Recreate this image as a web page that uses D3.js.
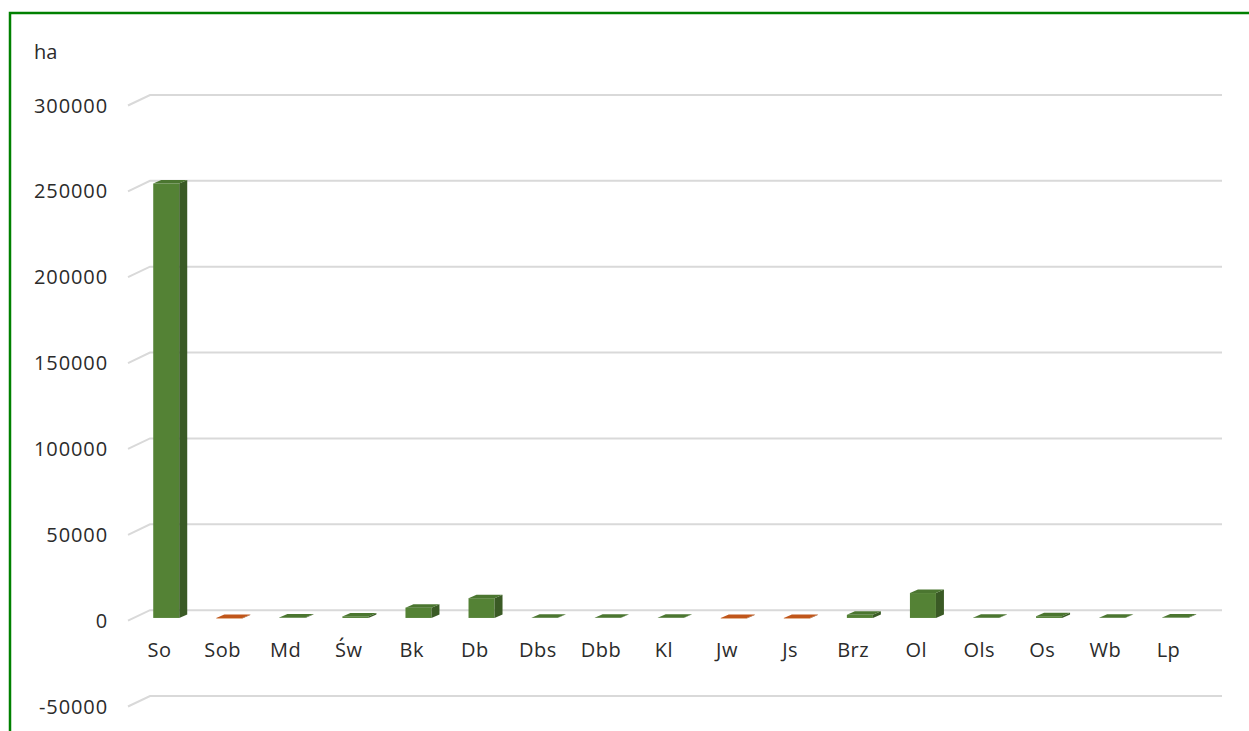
<!DOCTYPE html>
<html>
<head>
<meta charset="utf-8">
<script src="https://cdn.jsdelivr.net/npm/d3@7/dist/d3.min.js"></script>
<style>
  body { margin: 0; background: #fff; }
  text { font-family: "Open Sans", sans-serif; fill: #2b2b2b; font-size: 20px; }
</style>
</head>
<body>
<script>
// species codes and area (ha)
const categories = ["So", "Sob", "Md", "Św", "Bk", "Db", "Dbs", "Dbb", "Kl", "Jw", "Js", "Brz", "Ol", "Ols", "Os", "Wb", "Lp"];
const values = [253000, -300, 300, 900, 6000, 11500, 100, 100, 100, -300, -300, 1800, 14500, 100, 1000, 100, 200];
const yTicks = [-50000, 0, 50000, 100000, 150000, 200000, 250000, 300000];
const unitLabel = "ha";

const width = 1249, height = 731;

const svg = d3.select("body").append("svg")
  .attr("width", width)
  .attr("height", height);

// outer green frame (only top and left visible)
svg.append("rect")
  .attr("x", 10).attr("y", 13)
  .attr("width", width + 20).attr("height", height + 20)
  .attr("fill", "none")
  .attr("stroke", "#008000")
  .attr("stroke-width", 2.5);

// back wall scales
const x = d3.scaleBand().domain(categories).range([150, 1222]);
const y = d3.scaleLinear().domain([-50000, 300000]).range([696, 95]);

// floor depth (back -> front)
const depth = {dx: -22, dy: 10.5};
// bar front plane offset from the back wall, and bar thickness
const barFront = {dx: -15.3, dy: 7.8};
const barDepth = {dx: 8, dy: -3.5};
const barW = 26;

// gridlines
svg.append("g")
  .selectAll("polyline")
  .data(yTicks)
  .join("polyline")
  .attr("points", d => {
    const yb = y(d);
    return [[150 + depth.dx, yb + depth.dy], [150, yb], [1222, yb]].map(p => p.join(",")).join(" ");
  })
  .attr("fill", "none")
  .attr("stroke", "#d9d9d9")
  .attr("stroke-width", 2);

// y labels
svg.append("g")
  .selectAll("text")
  .data(yTicks)
  .join("text")
  .attr("x", 108)
  .attr("y", d => y(d) + depth.dy)
  .attr("dy", "0.35em")
  .attr("text-anchor", "end")
  .style("letter-spacing", "0.9px")
  .text(d => d);

svg.append("text")
  .attr("x", 34).attr("y", 59)
  .text(unitLabel);

// x labels on the front edge of the floor
svg.append("g")
  .selectAll("text")
  .data(categories)
  .join("text")
  .attr("x", d => x(d) + x.bandwidth() / 2 + depth.dx)
  .attr("y", 650)
  .attr("dy", "0.35em")
  .attr("text-anchor", "middle")
  .style("letter-spacing", "0.5px")
  .text(d => d);

// bars
const data = categories.map((c, i) => ({c, v: values[i]}));
const yF = v => y(v) + barFront.dy;

const bars = svg.append("g")
  .selectAll("g")
  .data(data)
  .join("g");

bars.each(function(d) {
  const g = d3.select(this);
  const neg = d.v < 0;
  const x0 = x(d.c) + x.bandwidth() / 2 + barFront.dx - barW / 2;
  const x1 = x0 + barW;
  const yTop = neg ? yF(0) : yF(d.v);
  const yBot = neg ? yF(d.v) : yF(0);
  const col = neg ? {front: "#c55a11", side: "#843c0c", top: "#c0561a"}
                  : {front: "#548235", side: "#3a5a25", top: "#4b7630"};
  const ddx = barDepth.dx, ddy = barDepth.dy;

  g.append("rect")
    .attr("x", x0).attr("y", yTop)
    .attr("width", barW).attr("height", Math.max(0, yBot - yTop))
    .attr("fill", col.front);

  g.append("polygon")
    .attr("points", [[x1, yTop], [x1 + ddx, yTop + ddy], [x1 + ddx, yBot + ddy], [x1, yBot]].map(p => p.join(",")).join(" "))
    .attr("fill", col.side);

  g.append("polygon")
    .attr("points", [[x0, yTop], [x0 + ddx, yTop + ddy], [x1 + ddx, yTop + ddy], [x1, yTop]].map(p => p.join(",")).join(" "))
    .attr("fill", col.top);
});
</script>
</body>
</html>
